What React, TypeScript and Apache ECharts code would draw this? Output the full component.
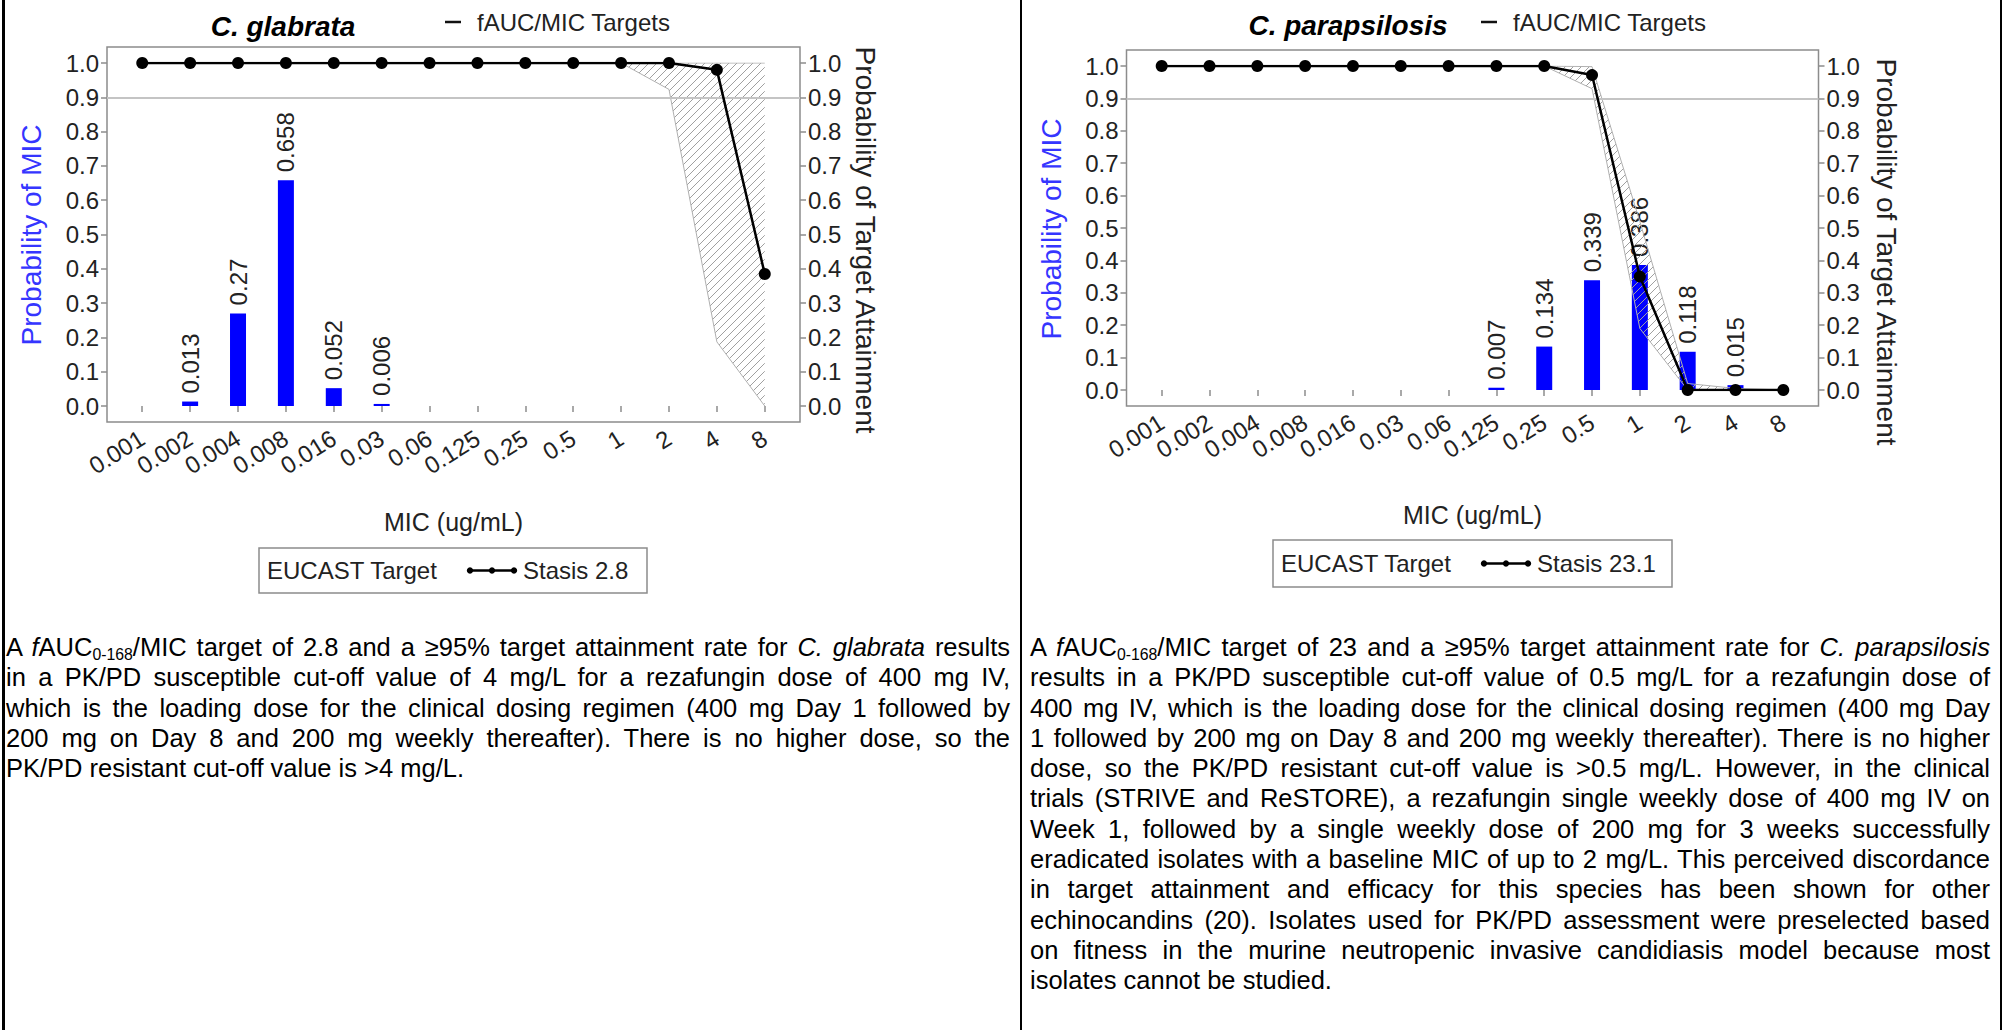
import React, { useEffect, useRef } from "react";
import * as echarts from "echarts";

// ---------- data ----------
const micCategories = ["0.001", "0.002", "0.004", "0.008", "0.016", "0.03", "0.06", "0.125", "0.25", "0.5", "1", "2", "4", "8"];
const yTickStep = 0.1;
const targetAttainmentLine = 0.9;

// C. glabrata
const glabrataMicProbability = [null, 0.013, 0.27, 0.658, 0.052, 0.006, null, null, null, null, null, null, null, null];
const glabrataStasis = [1, 1, 1, 1, 1, 1, 1, 1, 1, 1, 1, 1, 0.98, 0.385];
const glabrataTargetUpper = [1, 1, 1, 1, 1, 1, 1, 1, 1, 1, 1, 1, 1, 1];
const glabrataTargetLower = [1, 1, 1, 1, 1, 1, 1, 1, 1, 1, 1, 0.923, 0.187, 0];

// C. parapsilosis
const parapsilosisMicProbability = [null, null, null, null, null, null, null, 0.007, 0.134, 0.339, 0.386, 0.118, 0.015, null];
const parapsilosisStasis = [1, 1, 1, 1, 1, 1, 1, 1, 1, 0.972, 0.35, 0, 0, 0];
const parapsilosisTargetUpper = [1, 1, 1, 1, 1, 1, 1, 1, 1, 0.998, 0.52, 0.02, 0.005, 0];
const parapsilosisTargetLower = [1, 1, 1, 1, 1, 1, 1, 1, 1, 0.93, 0.19, 0, 0, 0];

// ---------- styles ----------
const FONT = '"Liberation Sans", Arial, Helvetica, sans-serif';
const TITLE_FONT = '"Liberation Sans Narrow", "Liberation Sans", Arial, sans-serif';
const TEXT = "#222";
const FRAME = "#8c8c8c";
const PAD = 0.736; // category padding at each side of the frame

type Panel = {
  key: string;
  species: string;
  stasisLabel: string;
  mic: (number | null)[];
  stasis: number[];
  upper: number[];
  lower: number[];
  frame: { left: number; top: number; width: number; height: number };
  inner: { top: number; height: number };
  titleX: number;
  titleY: number;
  topLegendX: number;
  leftTitleX: number;
  rightTitleX: number;
  axisTitleY: number;
  rightAxisTitleY: number;
  micLabelY: number;
  legendBox: { x: number; y: number; w: number; h: number };
  legendMarkerX: number;
  legendStasisX: number;
};

const panels: Panel[] = [
  {
    key: "glabrata",
    species: "C. glabrata",
    stasisLabel: "Stasis 2.8",
    mic: glabrataMicProbability,
    stasis: glabrataStasis,
    upper: glabrataTargetUpper,
    lower: glabrataTargetLower,
    frame: { left: 107, top: 47, width: 693, height: 375 },
    inner: { top: 63, height: 343 },
    titleX: 283,
    titleY: 26,
    topLegendX: 445,
    leftTitleX: 31,
    rightTitleX: 865,
    axisTitleY: 235,
    rightAxisTitleY: 240,
    micLabelY: 522,
    legendBox: { x: 259, y: 548, w: 388, h: 45 },
    legendMarkerX: 470,
    legendStasisX: 523,
  },
  {
    key: "parapsilosis",
    species: "C. parapsilosis",
    stasisLabel: "Stasis 23.1",
    mic: parapsilosisMicProbability,
    stasis: parapsilosisStasis,
    upper: parapsilosisTargetUpper,
    lower: parapsilosisTargetLower,
    frame: { left: 1126.5, top: 50, width: 692, height: 356 },
    inner: { top: 66, height: 324 },
    titleX: 1348,
    titleY: 25,
    topLegendX: 1481,
    leftTitleX: 1051,
    rightTitleX: 1886,
    axisTitleY: 229,
    rightAxisTitleY: 252,
    micLabelY: 515,
    legendBox: { x: 1273, y: 540, w: 399, h: 47 },
    legendMarkerX: 1484,
    legendStasisX: 1537,
  },
];

function makeHatch(): string {
  const c = document.createElement("canvas");
  c.width = 8;
  c.height = 8;
  const ctx = c.getContext("2d")!;
  ctx.strokeStyle = "#a0a0a0";
  ctx.lineWidth = 1;
  ctx.beginPath();
  ctx.moveTo(0, 8);
  ctx.lineTo(8, 0);
  ctx.moveTo(-2, 2);
  ctx.lineTo(2, -2);
  ctx.moveTo(6, 10);
  ctx.lineTo(10, 6);
  ctx.stroke();
  return c.toDataURL();
}

function buildOption() {
  const hatch = makeHatch();
  const grid: any[] = [];
  const xAxis: any[] = [];
  const yAxis: any[] = [];
  const series: any[] = [];
  const graphic: any[] = [];

  panels.forEach((p, pi) => {
    const gBase = pi * 2;
    const xBase = pi * 2;
    const yBase = pi * 3;
    const spacing = p.frame.width / (micCategories.length - 1 + 2 * PAD);
    const dx = (PAD - 0.5) * spacing;
    const dyTop = p.inner.top - p.frame.top;
    const dyBottom = p.frame.top + p.frame.height - (p.inner.top + p.inner.height);

    grid.push({
      left: p.frame.left,
      top: p.frame.top,
      width: p.frame.width,
      height: p.frame.height,
      show: true,
      borderColor: FRAME,
      borderWidth: 1.5,
      backgroundColor: "rgba(0,0,0,0)",
      outerBoundsMode: "none",
    });
    grid.push({
      left: p.frame.left + dx,
      top: p.inner.top,
      width: p.frame.width - 2 * dx,
      height: p.inner.height,
      outerBoundsMode: "none",
    });

    xAxis.push({ gridIndex: gBase, type: "value", min: 0, max: 1, show: false });
    xAxis.push({
      gridIndex: gBase + 1,
      type: "category",
      data: micCategories,
      boundaryGap: true,
      offset: dyBottom,
      axisLine: { show: false },
      axisTick: { show: true, alignWithLabel: true, length: 6, lineStyle: { color: FRAME, width: 1.5 } },
      axisLabel: { interval: 0, rotate: 32, margin: 14, fontSize: 24, color: TEXT, fontFamily: FONT },
      splitLine: { show: false },
    });

    yAxis.push({
      gridIndex: gBase,
      type: "value",
      min: -dyBottom / p.inner.height,
      max: 1 + dyTop / p.inner.height,
      show: false,
    });
    const valueAxis = (position: "left" | "right") => ({
      gridIndex: gBase + 1,
      type: "value",
      min: 0,
      max: 1,
      interval: yTickStep,
      position,
      offset: dx,
      axisLine: { show: false },
      axisTick: { show: true, length: 6, lineStyle: { color: FRAME, width: 1.5 } },
      axisLabel: {
        margin: 8,
        fontSize: 24,
        color: TEXT,
        fontFamily: FONT,
        formatter: (v: number) => v.toFixed(1),
      },
      splitLine: { show: false },
    });
    yAxis.push(valueAxis("left"));
    yAxis.push(valueAxis("right"));

    // 0.9 reference line across the frame
    series.push({
      type: "line",
      xAxisIndex: xBase,
      yAxisIndex: yBase,
      data: [],
      silent: true,
      markLine: {
        silent: true,
        symbol: ["none", "none"],
        label: { show: false },
        lineStyle: { color: "#c4c4c4", width: 2, type: "solid" },
        data: [{ yAxis: targetAttainmentLine }],
      },
    });
    // fAUC/MIC target band (hatched)
    series.push({
      type: "line",
      name: "fAUC/MIC Targets (low)",
      xAxisIndex: xBase + 1,
      yAxisIndex: yBase + 2,
      data: p.lower,
      stack: p.key,
      symbol: "none",
      silent: true,
      lineStyle: { color: "#b0b0b0", width: 1 },
    });
    series.push({
      type: "line",
      name: "fAUC/MIC Targets",
      xAxisIndex: xBase + 1,
      yAxisIndex: yBase + 2,
      data: p.upper.map((u, i) => +(u - p.lower[i]).toFixed(4)),
      stack: p.key,
      symbol: "none",
      silent: true,
      lineStyle: { color: "#b0b0b0", width: 1 },
      areaStyle: {
        opacity: 1,
        color: { image: hatch, repeat: "repeat", imageWidth: 8, imageHeight: 8 },
      },
    });
    // MIC distribution bars
    series.push({
      type: "bar",
      name: "Probability of MIC",
      xAxisIndex: xBase + 1,
      yAxisIndex: yBase + 1,
      data: p.mic,
      barWidth: 16,
      itemStyle: { color: "#0000ff" },
      label: {
        show: true,
        position: "top",
        rotate: 90,
        align: "left",
        verticalAlign: "middle",
        distance: 8,
        fontSize: 24,
        color: TEXT,
        fontFamily: FONT,
        formatter: (q: any) => String(q.value),
      },
    });
    // Target attainment line
    series.push({
      type: "line",
      name: p.stasisLabel,
      xAxisIndex: xBase + 1,
      yAxisIndex: yBase + 2,
      data: p.stasis,
      symbol: "circle",
      symbolSize: 12,
      itemStyle: { color: "#000" },
      lineStyle: { color: "#000", width: 2.5 },
      z: 5,
    });

    // ---- texts & legends ----
    graphic.push({
      type: "text",
      x: p.titleX,
      y: p.titleY,
      style: {
        text: p.species,
        fontFamily: TITLE_FONT,
        fontSize: 28,
        fontWeight: "bold",
        fontStyle: "italic",
        fill: "#000",
        align: "center",
        verticalAlign: "middle",
        textAlign: "center",
        textVerticalAlign: "middle",
      },
    });
    graphic.push({
      type: "line",
      shape: { x1: p.topLegendX, y1: 22, x2: p.topLegendX + 16, y2: 22 },
      style: { stroke: "#111", lineWidth: 2.5 },
    });
    graphic.push({
      type: "text",
      x: p.topLegendX + 32,
      y: 22,
      style: {
        text: "fAUC/MIC Targets",
        fontFamily: FONT,
        fontSize: 24,
        fill: TEXT,
        align: "left",
        verticalAlign: "middle",
        textAlign: "left",
        textVerticalAlign: "middle",
      },
    });
    graphic.push({
      type: "text",
      x: p.leftTitleX,
      y: p.axisTitleY,
      rotation: Math.PI / 2,
      style: {
        text: "Probability of MIC",
        fontFamily: FONT,
        fontSize: 28,
        fill: "#3535ff",
        align: "center",
        verticalAlign: "middle",
        textAlign: "center",
        textVerticalAlign: "middle",
      },
    });
    graphic.push({
      type: "text",
      x: p.rightTitleX,
      y: p.rightAxisTitleY,
      rotation: -Math.PI / 2,
      style: {
        text: "Probability of Target Attainment",
        fontFamily: FONT,
        fontSize: 28,
        fill: TEXT,
        align: "center",
        verticalAlign: "middle",
        textAlign: "center",
        textVerticalAlign: "middle",
      },
    });
    graphic.push({
      type: "text",
      x: p.frame.left + p.frame.width / 2,
      y: p.micLabelY,
      style: {
        text: "MIC (ug/mL)",
        fontFamily: FONT,
        fontSize: 25,
        fill: TEXT,
        align: "center",
        verticalAlign: "middle",
        textAlign: "center",
        textVerticalAlign: "middle",
      },
    });
    const lb = p.legendBox;
    const ly = lb.y + lb.h / 2;
    graphic.push({
      type: "rect",
      shape: { x: lb.x, y: lb.y, width: lb.w, height: lb.h },
      style: { fill: "none", stroke: FRAME, lineWidth: 1.5 },
    });
    graphic.push({
      type: "text",
      x: lb.x + 8,
      y: ly,
      style: {
        text: "EUCAST Target",
        fontFamily: FONT,
        fontSize: 24,
        fill: TEXT,
        align: "left",
        verticalAlign: "middle",
        textAlign: "left",
        textVerticalAlign: "middle",
      },
    });
    graphic.push({
      type: "line",
      shape: { x1: p.legendMarkerX, y1: ly, x2: p.legendMarkerX + 44, y2: ly },
      style: { stroke: "#000", lineWidth: 2.5 },
    });
    [0, 22, 44].forEach((o) =>
      graphic.push({
        type: "circle",
        shape: { cx: p.legendMarkerX + o, cy: ly, r: 3.2 },
        style: { fill: "#000" },
      })
    );
    graphic.push({
      type: "text",
      x: p.legendStasisX,
      y: ly,
      style: {
        text: p.stasisLabel,
        fontFamily: FONT,
        fontSize: 24,
        fill: TEXT,
        align: "left",
        verticalAlign: "middle",
        textAlign: "left",
        textVerticalAlign: "middle",
      },
    });
  });

  return {
    animation: false,
    backgroundColor: "#fff",
    textStyle: { fontFamily: FONT },
    grid,
    xAxis,
    yAxis,
    series,
    graphic,
  };
}

// ---------- captions ----------
const Sub = ({ children }: { children: React.ReactNode }) => (
  <span style={{ fontSize: "0.62em", position: "relative", top: "0.25em" }}>{children}</span>
);

const leftLines: React.ReactNode[] = [
  <>A <i>f</i>AUC<Sub>0-168</Sub>/MIC target of 2.8 and a ≥95% target attainment rate for <i>C. glabrata</i> results</>,
  <>in a PK/PD susceptible cut-off value of 4 mg/L for a rezafungin dose of 400 mg IV,</>,
  <>which is the loading dose for the clinical dosing regimen (400 mg Day 1 followed by</>,
  <>200 mg on Day 8 and 200 mg weekly thereafter). There is no higher dose, so the</>,
  <>PK/PD resistant cut-off value is &gt;4 mg/L.</>,
];

const rightLines: React.ReactNode[] = [
  <>A <i>f</i>AUC<Sub>0-168</Sub>/MIC target of 23 and a ≥95% target attainment rate for <i>C. parapsilosis</i></>,
  <>results in a PK/PD susceptible cut-off value of 0.5 mg/L for a rezafungin dose of</>,
  <>400 mg IV, which is the loading dose for the clinical dosing regimen (400 mg Day</>,
  <>1 followed by 200 mg on Day 8 and 200 mg weekly thereafter). There is no higher</>,
  <>dose, so the PK/PD resistant cut-off value is &gt;0.5 mg/L. However, in the clinical</>,
  <>trials (STRIVE and ReSTORE), a rezafungin single weekly dose of 400 mg IV on</>,
  <>Week 1, followed by a single weekly dose of 200 mg for 3 weeks successfully</>,
  <>eradicated isolates with a baseline MIC of up to 2 mg/L. This perceived discordance</>,
  <>in target attainment and efficacy for this species has been shown for other</>,
  <>echinocandins (20). Isolates used for PK/PD assessment were preselected based</>,
  <>on fitness in the murine neutropenic invasive candidiasis model because most</>,
  <>isolates cannot be studied.</>,
];

const LINE_H = 30.3;

function Paragraph({ lines, left, width }: { lines: React.ReactNode[]; left: number; width: number }) {
  return (
    <div
      style={{
        position: "absolute",
        left,
        top: 632,
        width,
        fontFamily: FONT,
        fontSize: "25.5px",
        color: "#000",
      }}
    >
      {lines.map((ln, i) => {
        const last = i === lines.length - 1;
        return (
          <div
            key={i}
            style={{
              height: LINE_H,
              lineHeight: `${LINE_H}px`,
              whiteSpace: "nowrap",
              textAlign: last ? "left" : "justify",
              textAlignLast: last ? "left" : "justify",
            }}
          >
            {ln}
          </div>
        );
      })}
    </div>
  );
}

export default function App() {
  const ref = useRef<HTMLDivElement>(null);
  useEffect(() => {
    if (!ref.current) return;
    const chart = echarts.init(ref.current, undefined, { renderer: "svg" });
    chart.setOption(buildOption() as any);
    return () => chart.dispose();
  }, []);

  const line = (left: number, width: number): React.CSSProperties => ({
    position: "absolute",
    left,
    top: 0,
    width,
    height: 1030,
    background: "#000",
  });

  return (
    <div style={{ position: "absolute", left: 0, top: 0, width: 2006, height: 1030, background: "#fff", overflow: "hidden" }}>
      <div ref={ref} style={{ position: "absolute", left: 0, top: 0, width: 2006, height: 620 }} />
      <Paragraph lines={leftLines} left={6} width={1004} />
      <Paragraph lines={rightLines} left={1030} width={960} />
      <div style={line(2, 3)} />
      <div style={line(1020, 2)} />
      <div style={line(2000, 2)} />
    </div>
  );
}
